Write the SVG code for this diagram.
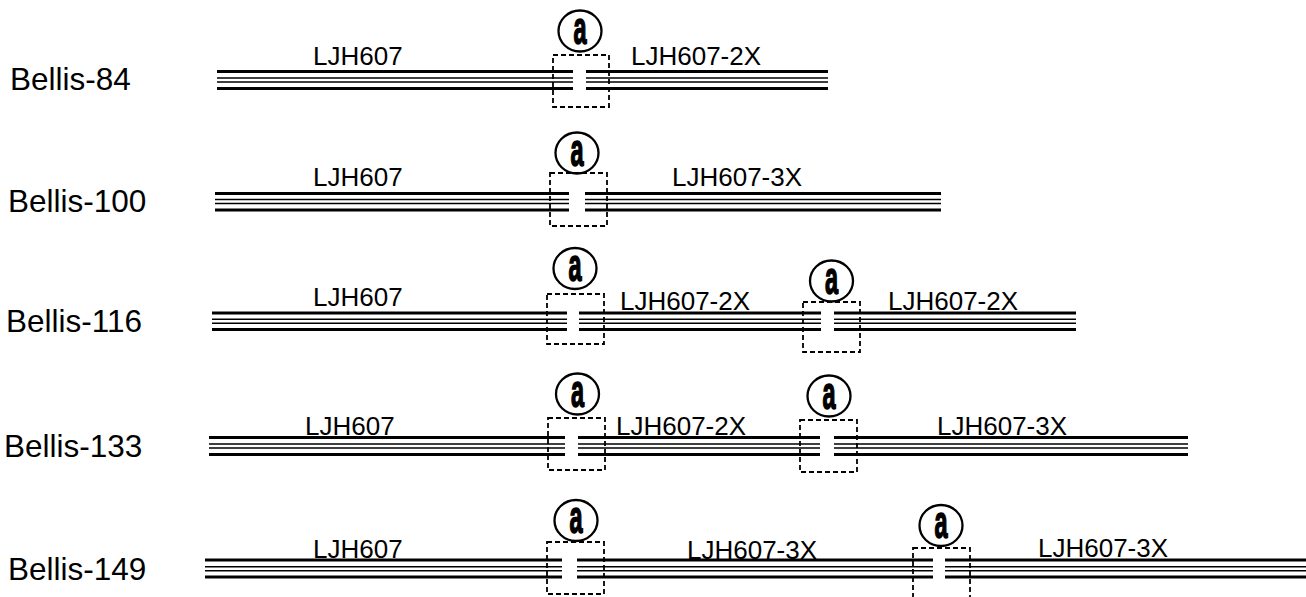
<svg xmlns="http://www.w3.org/2000/svg" width="1306" height="597" viewBox="0 0 1306 597">
<style>
.bg{fill:#fff}
.thick{fill:none;stroke:#000;stroke-width:3}
.thin{fill:none;stroke:#000;stroke-width:1.5}
.box{fill:none;stroke:#000;stroke-width:1.8;stroke-dasharray:5 3}
.ring{fill:none;stroke:#000;stroke-width:2.3}
.a{font-family:"Liberation Sans",Arial,sans-serif;font-weight:bold;font-size:47px;fill:#000;stroke:#000;stroke-width:1.6;text-anchor:middle}
.name{font-family:"Liberation Sans",Arial,sans-serif;font-size:31.5px;fill:#000}
.seg{font-family:"Liberation Sans",Arial,sans-serif;font-size:26px;fill:#000}
</style>
<rect class="bg" x="0" y="0" width="1306" height="597"/>

<g id="row-bellis-84">
<text class="name" x="10" y="90">Bellis-84</text>
<path class="thick" d="M217 71.5H573M586 71.5H828M217 88.5H573M586 88.5H828"/>
<path class="thin" d="M217 78H573M586 78H828M217 82H573M586 82H828"/>
<text class="seg" x="313" y="65">LJH607</text>
<text class="seg" x="631" y="65">LJH607-2X</text>
<rect class="box" x="553" y="55" width="56" height="52"/>
<g transform="translate(580,31)"><ellipse class="ring" rx="21.5" ry="20.5"/><text class="a" transform="scale(0.5,1)" y="12.5">a</text></g>
</g>

<g id="row-bellis-100">
<text class="name" x="8" y="212">Bellis-100</text>
<path class="thick" d="M215 193.5H569M585 193.5H941M215 210H569M585 210H941"/>
<path class="thin" d="M215 199.5H569M585 199.5H941M215 203.5H569M585 203.5H941"/>
<text class="seg" x="313" y="186">LJH607</text>
<text class="seg" x="672" y="186">LJH607-3X</text>
<rect class="box" x="550" y="173" width="57" height="53"/>
<g transform="translate(577,153)"><ellipse class="ring" rx="21.5" ry="20.5"/><text class="a" transform="scale(0.5,1)" y="12.5">a</text></g>
</g>

<g id="row-bellis-116">
<text class="name" x="6" y="332">Bellis-116</text>
<path class="thick" d="M212 313H567M579 313H821M834 313H1076M212 329.5H567M579 329.5H821M834 329.5H1076"/>
<path class="thin" d="M212 319.3H567M579 319.3H821M834 319.3H1076M212 323.3H567M579 323.3H821M834 323.3H1076"/>
<text class="seg" x="313" y="306">LJH607</text>
<text class="seg" x="620" y="310">LJH607-2X</text>
<text class="seg" x="888" y="310">LJH607-2X</text>
<rect class="box" x="547" y="294" width="57" height="50"/>
<rect class="box" x="803" y="302" width="57" height="50"/>
<g transform="translate(575,268.5)"><ellipse class="ring" rx="21.5" ry="20.5"/><text class="a" transform="scale(0.5,1)" y="12.5">a</text></g>
<g transform="translate(831.5,281)"><ellipse class="ring" rx="21.5" ry="20.5"/><text class="a" transform="scale(0.5,1)" y="12.5">a</text></g>
</g>

<g id="row-bellis-133">
<text class="name" x="4" y="457">Bellis-133</text>
<path class="thick" d="M209 437.5H565M578 437.5H820M834 437.5H1188M209 454.5H565M578 454.5H820M834 454.5H1188"/>
<path class="thin" d="M209 444H565M578 444H820M834 444H1188M209 448H565M578 448H820M834 448H1188"/>
<text class="seg" x="305" y="435">LJH607</text>
<text class="seg" x="616" y="435">LJH607-2X</text>
<text class="seg" x="937" y="435">LJH607-3X</text>
<rect class="box" x="548" y="418" width="57" height="52"/>
<rect class="box" x="800" y="420" width="57" height="52"/>
<g transform="translate(577.5,394)"><ellipse class="ring" rx="21.5" ry="20.5"/><text class="a" transform="scale(0.5,1)" y="12.5">a</text></g>
<g transform="translate(829,396)"><ellipse class="ring" rx="21.5" ry="20.5"/><text class="a" transform="scale(0.5,1)" y="12.5">a</text></g>
</g>

<g id="row-bellis-149">
<text class="name" x="8" y="580">Bellis-149</text>
<path class="thick" d="M205 560H562M577 560H933M945 560H1306M205 577H562M577 577H933M945 577H1306"/>
<path class="thin" d="M205 566.7H562M577 566.7H933M945 566.7H1306M205 570.7H562M577 570.7H933M945 570.7H1306"/>
<text class="seg" x="313" y="558">LJH607</text>
<text class="seg" x="687" y="559">LJH607-3X</text>
<text class="seg" x="1038" y="557">LJH607-3X</text>
<rect class="box" x="547" y="542" width="57" height="52"/>
<rect class="box" x="913" y="548" width="57" height="52"/>
<g transform="translate(576,520.5)"><ellipse class="ring" rx="21.5" ry="20.5"/><text class="a" transform="scale(0.5,1)" y="12.5">a</text></g>
<g transform="translate(941,525.5)"><ellipse class="ring" rx="21.5" ry="20.5"/><text class="a" transform="scale(0.5,1)" y="12.5">a</text></g>
</g>
</svg>
